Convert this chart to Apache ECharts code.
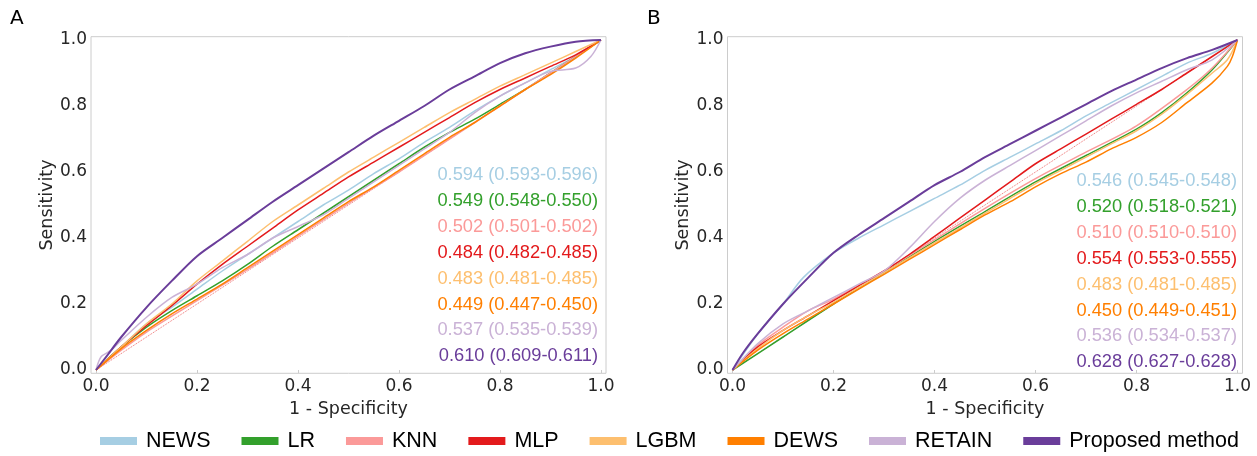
<!DOCTYPE html>
<html>
<head>
<meta charset="utf-8">
<script src="https://cdn.jsdelivr.net/npm/echarts@6/dist/echarts.min.js"></script>
<style>html,body{margin:0;padding:0;background:#fff}#c{width:1257px;height:456px}</style>
</head>
<body>
<div id="c"></div>
<script>
const models = ['NEWS','LR','KNN','MLP','LGBM','DEWS','RETAIN','Proposed method'];
const colors = ['#a6cee3','#33a02c','#fb9a99','#e31a1c','#fdbf6f','#ff7f00','#cab2d6','#6a3d9a'];
const xTicks = [0, 0.2, 0.4, 0.6, 0.8, 1.0];
const yTicks = [0, 0.2, 0.4, 0.6, 0.8, 1.0];
const diagonal = [[0,0],[1,1]];

// Panel A ROC curves [1-specificity, sensitivity]
const A_NEWS = [[0,0],[0.05,0.07],[0.1,0.14],[0.15,0.19],[0.2,0.245],[0.25,0.3],[0.3,0.35],[0.35,0.4],[0.4,0.45],[0.45,0.5],[0.5,0.545],[0.55,0.595],[0.6,0.64],[0.65,0.69],[0.7,0.735],[0.75,0.785],[0.8,0.83],[0.85,0.87],[0.9,0.91],[0.95,0.95],[1,1]];
const A_LR = [[0,0],[0.05,0.07],[0.1,0.13],[0.15,0.18],[0.2,0.225],[0.25,0.27],[0.3,0.32],[0.35,0.375],[0.4,0.425],[0.45,0.475],[0.5,0.525],[0.55,0.575],[0.6,0.625],[0.65,0.675],[0.7,0.72],[0.75,0.76],[0.8,0.805],[0.85,0.85],[0.9,0.9],[0.95,0.95],[1,1]];
const A_KNN = [[0,0],[0.05,0.06],[0.1,0.115],[0.2,0.21],[0.3,0.305],[0.4,0.405],[0.5,0.505],[0.6,0.6],[0.7,0.7],[0.8,0.8],[0.9,0.9],[1,1]];
const A_MLP = [[0,0],[0.05,0.07],[0.1,0.135],[0.15,0.195],[0.2,0.26],[0.25,0.32],[0.3,0.375],[0.35,0.43],[0.4,0.485],[0.45,0.535],[0.5,0.585],[0.55,0.63],[0.6,0.675],[0.65,0.72],[0.7,0.765],[0.75,0.81],[0.8,0.85],[0.85,0.885],[0.9,0.92],[0.95,0.955],[1,1]];
const A_LGBM = [[0,0],[0.05,0.07],[0.1,0.14],[0.15,0.2],[0.2,0.27],[0.25,0.33],[0.3,0.39],[0.35,0.45],[0.4,0.5],[0.45,0.55],[0.5,0.6],[0.55,0.645],[0.6,0.69],[0.65,0.735],[0.7,0.78],[0.75,0.82],[0.8,0.86],[0.85,0.895],[0.9,0.93],[0.95,0.965],[1,1]];
const A_DEWS = [[0,0],[0.05,0.065],[0.1,0.12],[0.15,0.17],[0.2,0.215],[0.25,0.26],[0.3,0.31],[0.35,0.36],[0.4,0.41],[0.45,0.46],[0.5,0.51],[0.55,0.555],[0.6,0.605],[0.65,0.655],[0.7,0.705],[0.75,0.75],[0.8,0.8],[0.85,0.85],[0.9,0.895],[0.95,0.945],[1,1]];
const A_RETAIN = [[0,0],[0.01,0.04],[0.03,0.06],[0.05,0.09],[0.1,0.16],[0.15,0.22],[0.2,0.26],[0.25,0.31],[0.3,0.35],[0.35,0.4],[0.4,0.435],[0.45,0.47],[0.5,0.52],[0.55,0.57],[0.6,0.62],[0.65,0.67],[0.7,0.72],[0.75,0.78],[0.8,0.83],[0.85,0.87],[0.9,0.905],[0.95,0.915],[0.98,0.95],[1,1]];
const A_PROPOSED = [[0,0],[0.02,0.04],[0.05,0.1],[0.1,0.19],[0.15,0.27],[0.2,0.345],[0.25,0.4],[0.3,0.455],[0.35,0.51],[0.4,0.56],[0.45,0.61],[0.5,0.66],[0.55,0.71],[0.6,0.755],[0.65,0.8],[0.7,0.85],[0.75,0.89],[0.8,0.93],[0.85,0.96],[0.9,0.98],[0.95,0.995],[1,1]];

// Panel B ROC curves
const B_NEWS = [[0,0],[0.05,0.11],[0.1,0.2],[0.14,0.28],[0.2,0.355],[0.25,0.4],[0.3,0.44],[0.35,0.48],[0.4,0.52],[0.45,0.56],[0.5,0.605],[0.55,0.645],[0.6,0.685],[0.65,0.725],[0.7,0.77],[0.75,0.81],[0.8,0.85],[0.85,0.89],[0.9,0.93],[0.95,0.96],[1,1]];
const B_LR = [[0,0],[0.1,0.1],[0.2,0.2],[0.3,0.295],[0.4,0.39],[0.5,0.48],[0.6,0.57],[0.7,0.65],[0.8,0.73],[0.85,0.78],[0.9,0.84],[0.95,0.91],[1,1]];
const B_KNN = [[0,0],[0.05,0.075],[0.1,0.13],[0.15,0.18],[0.2,0.215],[0.3,0.3],[0.4,0.395],[0.5,0.49],[0.6,0.58],[0.7,0.66],[0.8,0.74],[0.9,0.85],[0.95,0.915],[1,1]];
const B_MLP = [[0,0],[0.05,0.07],[0.1,0.12],[0.15,0.165],[0.2,0.21],[0.25,0.255],[0.3,0.3],[0.35,0.35],[0.4,0.405],[0.45,0.46],[0.5,0.515],[0.55,0.57],[0.6,0.625],[0.65,0.67],[0.7,0.715],[0.75,0.76],[0.8,0.805],[0.85,0.85],[0.9,0.9],[0.95,0.95],[1,1]];
const B_LGBM = [[0,0],[0.05,0.065],[0.1,0.12],[0.15,0.165],[0.2,0.205],[0.25,0.25],[0.3,0.295],[0.35,0.34],[0.4,0.385],[0.45,0.43],[0.5,0.475],[0.55,0.52],[0.6,0.565],[0.65,0.605],[0.7,0.645],[0.75,0.685],[0.8,0.725],[0.85,0.775],[0.9,0.835],[0.95,0.9],[0.98,0.94],[1,1]];
const B_DEWS = [[0,0],[0.05,0.06],[0.1,0.11],[0.15,0.155],[0.2,0.2],[0.25,0.245],[0.3,0.29],[0.35,0.335],[0.4,0.38],[0.45,0.425],[0.5,0.47],[0.55,0.51],[0.6,0.555],[0.65,0.595],[0.7,0.63],[0.75,0.67],[0.8,0.705],[0.85,0.75],[0.9,0.81],[0.95,0.87],[0.98,0.92],[0.99,0.95],[1,1]];
const B_RETAIN = [[0,0],[0.05,0.08],[0.1,0.14],[0.15,0.18],[0.2,0.22],[0.25,0.26],[0.3,0.3],[0.35,0.37],[0.4,0.45],[0.45,0.52],[0.5,0.575],[0.55,0.62],[0.6,0.665],[0.65,0.71],[0.7,0.755],[0.75,0.8],[0.8,0.84],[0.85,0.875],[0.9,0.91],[0.95,0.94],[1,1]];
const B_PROPOSED = [[0,0],[0.02,0.05],[0.05,0.11],[0.1,0.2],[0.15,0.28],[0.2,0.355],[0.25,0.41],[0.3,0.46],[0.35,0.51],[0.4,0.56],[0.45,0.6],[0.5,0.645],[0.55,0.685],[0.6,0.725],[0.65,0.765],[0.7,0.805],[0.75,0.845],[0.8,0.88],[0.85,0.915],[0.9,0.945],[0.95,0.97],[1,1]];

const aucA = ['0.594 (0.593-0.596)','0.549 (0.548-0.550)','0.502 (0.501-0.502)','0.484 (0.482-0.485)','0.483 (0.481-0.485)','0.449 (0.447-0.450)','0.537 (0.535-0.539)','0.610 (0.609-0.611)'];
const aucB = ['0.546 (0.545-0.548)','0.520 (0.518-0.521)','0.510 (0.510-0.510)','0.554 (0.553-0.555)','0.483 (0.481-0.485)','0.450 (0.449-0.451)','0.536 (0.534-0.537)','0.628 (0.627-0.628)'];

const curvesA = [A_NEWS, A_LR, A_KNN, A_MLP, A_LGBM, A_DEWS, A_RETAIN, A_PROPOSED];
const curvesB = [B_NEWS, B_LR, B_KNN, B_MLP, B_LGBM, B_DEWS, B_RETAIN, B_PROPOSED];

const tickFont = {fontFamily:'DejaVu Sans', fontSize:17, color:'#262626'};
const nameFont = {fontFamily:'DejaVu Sans', fontSize:17.5, color:'#262626'};
function xAx(gi){
  return {gridIndex:gi, type:'value', min:-0.01, max:1.01,
    name:'1 - Specificity', nameLocation:'middle', nameGap:17, nameTextStyle:nameFont,
    axisLine:{show:false},
    axisTick:{show:true, length:3, customValues:xTicks, lineStyle:{color:'#cccccc'}},
    splitLine:{show:false},
    axisLabel:Object.assign({margin:5, customValues:xTicks, formatter:v=>v.toFixed(1)}, tickFont)};
}
function yAx(gi){
  return {gridIndex:gi, type:'value', min:-0.01, max:1.01,
    name:'Sensitivity', nameLocation:'middle', nameGap:32, nameTextStyle:nameFont,
    axisLine:{show:false}, axisTick:{show:false}, splitLine:{show:false},
    axisLabel:Object.assign({margin:4, customValues:yTicks, formatter:v=>v.toFixed(1)}, tickFont)};
}
const series = [];
[curvesA, curvesB].forEach((cs, gi) => {
  series.push({type:'line', xAxisIndex:gi, yAxisIndex:gi, data:diagonal, symbol:'none', silent:true,
    lineStyle:{color:'#ef6f6f', width:1, type:'dotted'}, z:1});
  cs.forEach((d, i) => {
    series.push({name:models[i], type:'line', xAxisIndex:gi, yAxisIndex:gi, data:d, symbol:'none',
      smooth:0.3, color:colors[i],
      lineStyle:{color:colors[i], width: i===7 ? 2 : 1.5}, z:2+i});
  });
});

const graphics = [
  {type:'text', left:10, top:9, style:{text:'A', font:'20px "DejaVu Sans"', fill:'#000'}},
  {type:'text', left:647, top:9, style:{text:'B', font:'20px "DejaVu Sans"', fill:'#000'}}
];
aucA.forEach((t,i)=>graphics.push({type:'text', x:598, y:175+25.9*i,
  style:{text:t, font:'18.3px "Liberation Sans"', fill:colors[i], textAlign:'right', textVerticalAlign:'middle'}}));
aucB.forEach((t,i)=>graphics.push({type:'text', x:1237, y:181+25.9*i,
  style:{text:t, font:'18.3px "Liberation Sans"', fill:colors[i], textAlign:'right', textVerticalAlign:'middle'}}));

const chart = echarts.init(document.getElementById('c'));
chart.setOption({
  animation:false,
  backgroundColor:'#fff',
  grid:[
    {left:91, top:36.7, width:515, height:336.6, show:true, borderColor:'#cccccc', borderWidth:1},
    {left:727.5, top:36.7, width:515, height:336.6, show:true, borderColor:'#cccccc', borderWidth:1}
  ],
  xAxis:[xAx(0), xAx(1)],
  yAxis:[yAx(0), yAx(1)],
  legend:{data:models, left:100, top:430, padding:0, orient:'horizontal', width:1157,
    icon:'rect', itemWidth:37, itemHeight:8, itemGap:31,
    textStyle:{fontFamily:'Liberation Sans', fontSize:21.5, color:'#000', padding:[0,0,0,4]}},
  graphic:graphics,
  series:series
});
</script>
</body>
</html>
